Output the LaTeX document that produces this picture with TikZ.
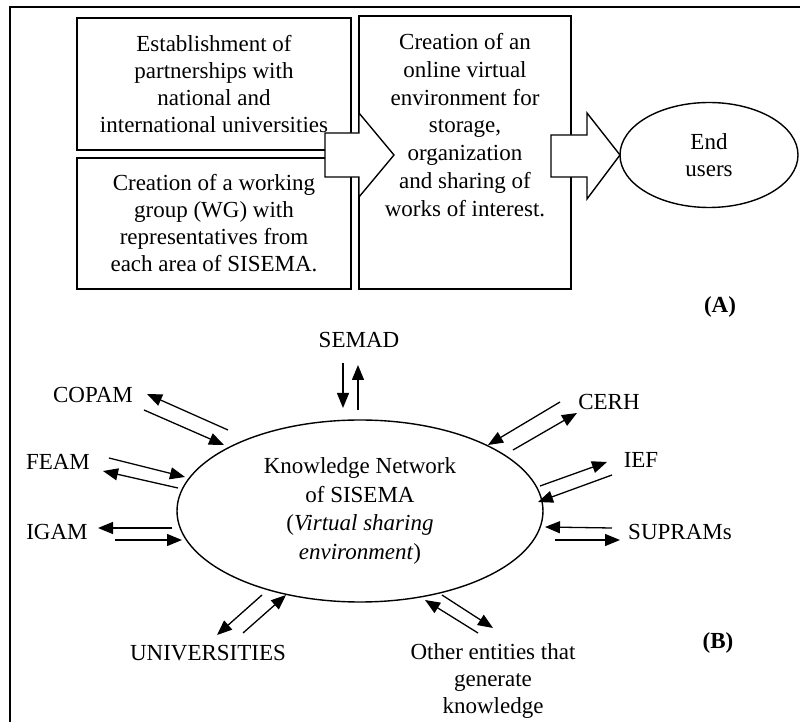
\documentclass[tikz,border=0pt]{standalone}
\usepackage{fontspec}
\setmainfont{Liberation Serif}
\usetikzlibrary{shapes.geometric,arrows.meta}
\begin{document}
\begin{tikzpicture}[x=0.5pt,y=-0.5pt,
  txt/.style={font=\fontsize{11.5}{13.5}\selectfont, align=center, inner sep=0pt},
  box/.style={draw, line width=1pt, inner sep=0pt, font=\fontsize{11.5}{13.5}\selectfont, align=center},
  blockarrow/.style={draw, fill=white, line width=0.7pt, line join=miter},
  link/.style={line width=0.65pt, -{Triangle[length=7.5pt,width=6pt]}},
  frameline/.style={line width=1pt}]
\useasboundingbox (0,0) rectangle (800,722);
% outer frame (right and bottom outside the picture)
\draw[frameline] (10,722) -- (10,7) -- (800,7);

% part A
\node[box, minimum width=137pt, minimum height=66pt] (b1) at (214,84)
  {Establishment of\\partnerships with\\national and\\international universities};
\node[box, minimum width=137pt, minimum height=65.5pt] (b2) at (214,223.5)
  {Creation of a working\\group (WG) with\\representatives from\\each area of SISEMA.};
\node[box, minimum width=106pt, minimum height=136.5pt] (b3) at (465,152.5) {};
\draw[blockarrow] (325,133) -- (359,133) -- (359,113) -- (394,155) -- (359,197) -- (359,177) -- (325,177) -- cycle;
\node[txt, font=\fontsize{11.5}{13.85}\selectfont] (b3t) at (465,125)
  {Creation of an\\online virtual\\environment for\\storage,\\organization\\and sharing of\\works of interest.};
\node[draw, ellipse, line width=0.7pt, minimum width=89pt, minimum height=52.5pt, inner sep=0pt, txt] (eu) at (709,155) {End\\users};
\draw[blockarrow] (551,135) -- (587,135) -- (587,113) -- (620,155) -- (587,199) -- (587,177) -- (551,177) -- cycle;
\node[txt, font=\bfseries\fontsize{11.5}{13.5}\selectfont] (la) at (720,307) {(A)};

% part B
\node[draw, ellipse, line width=0.7pt, minimum width=183pt, minimum height=91pt, inner sep=0pt,
  txt, font=\fontsize{11.5}{14.2}\selectfont] (kn) at (360,511)
  {Knowledge Network\\of SISEMA\\(\textit{Virtual sharing}\\\textit{environment})};
\node[txt] (semad) at (359,340) {SEMAD};
\node[txt] (copam) at (93,395) {COPAM};
\node[txt] (feam) at (58,462) {FEAM};
\node[txt] (igam) at (57,532) {IGAM};
\node[txt] (univ) at (208,653) {UNIVERSITIES};
\node[txt] (other) at (493,681) {Other entities that\\generate\\knowledge};
\node[txt] (supram) at (680,532) {SUPRAMs};
\node[txt] (ief) at (641,460) {IEF};
\node[txt] (cerh) at (609,402) {CERH};
\node[txt, font=\bfseries\fontsize{11.5}{13.5}\selectfont] (lb) at (718,643) {(B)};

% connector end points
\coordinate (semadin-s) at (343,363);  \coordinate (semadin-e) at (343,408);
\coordinate (semadout-s) at (358,410); \coordinate (semadout-e) at (358,365);
\coordinate (copamout-s) at (228,430); \coordinate (copamout-e) at (147,394);
\coordinate (copamin-s) at (144,410);  \coordinate (copamin-e) at (224,445);
\coordinate (feamin-s) at (109,458);   \coordinate (feamin-e) at (185,477);
\coordinate (feamout-s) at (178,488);  \coordinate (feamout-e) at (103,471);
\coordinate (igamout-s) at (172,528);  \coordinate (igamout-e) at (98,528);
\coordinate (igamin-s) at (115,540);   \coordinate (igamin-e) at (182,540);
\coordinate (univout-s) at (262,595);  \coordinate (univout-e) at (217,635);
\coordinate (univin-s) at (243,633);   \coordinate (univin-e) at (286,595);
\coordinate (otherin-s) at (478,633);  \coordinate (otherin-e) at (425,600);
\coordinate (otherout-s) at (442,595); \coordinate (otherout-e) at (493,628);
\coordinate (supramin-s) at (612,528); \coordinate (supramin-e) at (545,527);
\coordinate (supramout-s) at (555,540);\coordinate (supramout-e) at (620,540);
\coordinate (iefout-s) at (540,486);   \coordinate (iefout-e) at (607,462);
\coordinate (iefin-s) at (612,475);    \coordinate (iefin-e) at (538,502);
\coordinate (cerhin-s) at (560,402);   \coordinate (cerhin-e) at (488,445);
\coordinate (cerhout-s) at (513,450);  \coordinate (cerhout-e) at (577,413);

\foreach \n in {semadin,semadout,copamout,copamin,feamin,feamout,igamout,igamin,
  univout,univin,otherin,otherout,supramin,supramout,iefout,iefin,cerhin,cerhout}
  \draw[link] (\n-s) -- (\n-e);
\end{tikzpicture}
\end{document}
